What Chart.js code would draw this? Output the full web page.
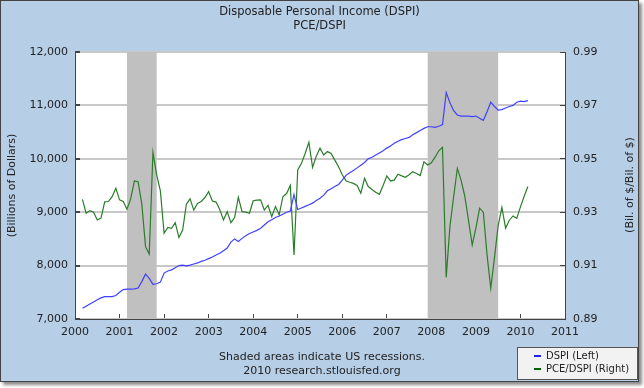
<!DOCTYPE html>
<html lang="en">
<head>
<meta charset="UTF-8">
<title>Disposable Personal Income (DSPI)</title>
<script src="https://cdn.jsdelivr.net/npm/chart.js"></script>
<style>
    body { margin: 0; background: #fff; font-family: "DejaVu Sans", sans-serif; }
    #frame {
        position: absolute; left: 0; top: 0;
        width: 637px; height: 380px;
        border: 1px solid #444;
        background: #b6cee6;
        box-shadow: 3px 3px 3px rgba(0, 0, 0, 0.45);
    }
    #myChart { position: absolute; left: 0; top: 0; }
    .note {
        position: absolute; left: 0; width: 642px; text-align: center;
        font-size: 11px; color: #222; line-height: 14px;
    }
    #rightTitle {
        position: absolute; left: 529px; top: 177px; width: 200px; height: 14px;
        line-height: 14px; text-align: center; font-size: 11px; color: #222;
        transform: rotate(-90deg);
    }
    #legend {
        position: absolute; left: 516px; top: 346px;
        width: 119px; height: 31px;
        background: #f2f2f2; border: 1px solid #555;
        font-size: 10px; color: #222;
    }
    #legend div { position: absolute; left: 28px; line-height: 12px; }
    #legend span { position: absolute; left: -12px; top: 5px; width: 7px; height: 2px; }
</style>
</head>
<body>
<div id="frame">
    <canvas id="myChart" width="637" height="380"></canvas>
    <div id="rightTitle">(Bil. of $/Bil. of $)</div>
    <div class="note" style="top:349px">Shaded areas indicate US recessions.</div>
    <div class="note" style="top:363px">2010 research.stlouisfed.org</div>
    <div id="legend">
        <div style="top:2px"><span style="background:#2020ff"></span>DSPI (Left)</div>
        <div style="top:15px"><span style="background:#006400"></span>PCE/DSPI (Right)</div>
    </div>
</div>

<script>
    // monthly observations, Mar 2000 .. Mar 2010
    const startYear = 2000;
    const startMonth = 3;

    // DSPI, billions of dollars (left axis)
    const dspi = [
        7200, 7240, 7280, 7320, 7360, 7395, 7420, 7420, 7420, 7440,
        7500, 7550, 7560, 7560, 7565, 7580, 7700, 7840, 7760, 7650, 7660, 7690,
        7860, 7900, 7920, 7960, 8000, 8010, 7995, 8010, 8030, 8050, 8080, 8100,
        8130, 8160, 8200, 8230, 8280, 8330, 8440, 8500, 8450, 8510, 8560, 8600,
        8630, 8660, 8700, 8760, 8820, 8860, 8900, 8930, 8960, 9000, 9020, 9330,
        9050, 9080, 9110, 9140, 9170, 9220, 9260, 9320, 9400, 9440, 9480, 9520,
        9600, 9690, 9740, 9780, 9830, 9880, 9930, 10000, 10030, 10070, 10110, 10150,
        10200, 10240, 10290, 10330, 10360, 10380, 10400, 10450, 10490, 10530, 10570, 10600,
        10600, 10590, 10610, 10640, 11240, 11050, 10900, 10820, 10800, 10800, 10800, 10790,
        10800, 10760, 10720, 10880, 11060, 10980, 10910, 10920, 10950, 10980, 11000, 11060,
        11080, 11070, 11090
    ];

    // PCE / DSPI ratio (right axis)
    const pceRatio = [
        0.9348, 0.9296, 0.9306, 0.9300, 0.9271, 0.9278, 0.9339, 0.9340, 0.9358, 0.9390,
        0.9346, 0.9340, 0.9311, 0.9350, 0.9417, 0.9414, 0.9330, 0.9171, 0.9143, 0.9524, 0.9440, 0.9380,
        0.9221, 0.9243, 0.9240, 0.9261, 0.9205, 0.9233, 0.9330, 0.9350, 0.9308, 0.9333, 0.9340, 0.9355,
        0.9377, 0.9342, 0.9338, 0.9310, 0.9271, 0.9302, 0.9261, 0.9280, 0.9356, 0.9302, 0.9300, 0.9296,
        0.9343, 0.9345, 0.9346, 0.9308, 0.9326, 0.9283, 0.9321, 0.9290, 0.9358, 0.9370, 0.9400, 0.9140,
        0.9458, 0.9483, 0.9520, 0.9562, 0.9468, 0.9510, 0.9540, 0.9514, 0.9527, 0.9520, 0.9495, 0.9470,
        0.9440, 0.9418, 0.9412, 0.9408, 0.9400, 0.9371, 0.9427, 0.9396, 0.9385, 0.9375, 0.9367, 0.9400,
        0.9436, 0.9417, 0.9420, 0.9442, 0.9436, 0.9431, 0.9440, 0.9452, 0.9445, 0.9437, 0.9489, 0.9477,
        0.9485, 0.9506, 0.9530, 0.9543, 0.9056, 0.9246, 0.9358, 0.9464, 0.9420, 0.9360, 0.9270, 0.9177,
        0.9240, 0.9315, 0.9300, 0.9140, 0.9015, 0.9130, 0.9250, 0.9318, 0.9240, 0.9270, 0.9286, 0.9277,
        0.9320, 0.9360, 0.9396
    ];

    const recessions = [['2001-03', '2001-11'], ['2007-12', '2009-07']];

    function toYear(s) {
        const [y, m] = s.split('-');
        return parseInt(y, 10) + (parseInt(m, 10) - 1) / 12;
    }

    const months = [];
    for (let i = 0; i < dspi.length; i++) {
        const m = startMonth - 1 + i;
        months.push((startYear + Math.floor(m / 12)) + '-' + String(m % 12 + 1).padStart(2, '0'));
    }

    const dspiPoints = months.map((d, i) => ({ x: toYear(d), y: dspi[i] }));
    const ratioPoints = months.map((d, i) => ({ x: toYear(d), y: pceRatio[i] }));

    // white plot background, then grey recession bands over the grid but under the lines
    const recessionShade = {
        id: 'recessionShade',
        beforeDraw(chart) {
            const { ctx, chartArea } = chart;
            ctx.save();
            ctx.fillStyle = '#fff';
            ctx.fillRect(chartArea.left, chartArea.top, chartArea.right - chartArea.left, chartArea.bottom - chartArea.top);
            ctx.restore();
        },
        beforeDatasetsDraw(chart) {
            const { ctx, chartArea, scales } = chart;
            ctx.save();
            ctx.fillStyle = '#c0c0c0';
            recessions.forEach(r => {
                const x1 = scales.x.getPixelForValue(toYear(r[0]));
                const x2 = scales.x.getPixelForValue(toYear(r[1]));
                ctx.fillRect(x1, chartArea.top, x2 - x1, chartArea.bottom - chartArea.top);
            });
            ctx.restore();
        }
    };

    const tickFont = { family: 'DejaVu Sans', size: 11 };

    const ctx = document.getElementById('myChart').getContext('2d');
    const myChart = new Chart(ctx, {
        type: 'line',
        data: {
            datasets: [
                {
                    label: 'DSPI (Left)',
                    data: dspiPoints,
                    yAxisID: 'yLeft',
                    borderColor: '#4040ff',
                    borderWidth: 1.2,
                    pointRadius: 0,
                    tension: 0
                },
                {
                    label: 'PCE/DSPI (Right)',
                    data: ratioPoints,
                    yAxisID: 'yRight',
                    borderColor: '#2a7d2a',
                    borderWidth: 1.2,
                    pointRadius: 0,
                    tension: 0
                }
            ]
        },
        options: {
            responsive: false,
            animation: false,
            devicePixelRatio: 1,
            layout: { padding: 0 },
            plugins: {
                legend: { display: false },
                tooltip: { enabled: false },
                title: {
                    display: true,
                    text: ['Disposable Personal Income (DSPI)', 'PCE/DSPI'],
                    color: '#222',
                    font: { family: 'DejaVu Sans', size: 11.5, weight: 'normal', lineHeight: 14 / 11.5 },
                    padding: { top: 4, bottom: 19 }
                }
            },
            scales: {
                x: {
                    type: 'linear',
                    position: 'bottom',
                    min: 2000,
                    max: 2011,
                    ticks: {
                        stepSize: 1,
                        color: '#222',
                        font: tickFont,
                        padding: 12,
                        maxRotation: 0,
                        callback: v => String(v)
                    },
                    grid: { drawOnChartArea: false, tickLength: -5, tickColor: '#444' },
                    border: { color: '#444', z: 1 },
                    afterFit(scale) { scale.height = 62; }
                },
                yLeft: {
                    position: 'left',
                    min: 7000,
                    max: 12000,
                    ticks: { stepSize: 1000, color: '#222', font: tickFont, padding: 12 },
                    grid: { color: '#c8c8c8', lineWidth: 2, tickLength: -5, tickColor: '#444' },
                    border: { color: '#444', z: 1 },
                    title: {
                        display: true,
                        text: '(Billions of Dollars)',
                        color: '#222',
                        font: tickFont,
                        padding: { top: 5, bottom: 0 }
                    },
                    afterFit(scale) { scale.width = 74; }
                },
                yRight: {
                    position: 'right',
                    min: 0.89,
                    max: 0.99,
                    ticks: {
                        stepSize: 0.02,
                        color: '#222',
                        font: tickFont,
                        padding: 13,
                        callback: v => v.toFixed(2)
                    },
                    grid: { drawOnChartArea: false, tickLength: -5, tickColor: '#444' },
                    border: { color: '#444', z: 1 },
                    afterFit(scale) { scale.width = 73; }
                }
            }
        },
        plugins: [recessionShade]
    });
</script>
</body>
</html>
